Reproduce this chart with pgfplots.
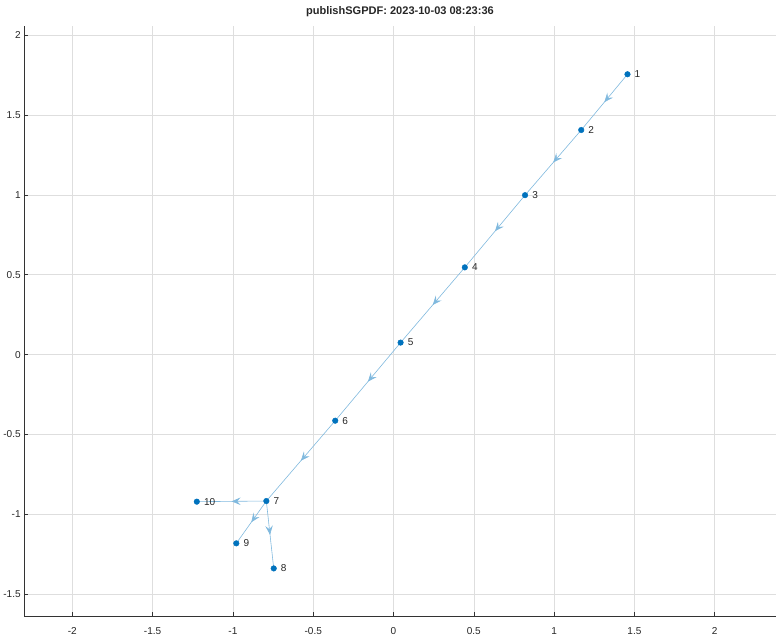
\documentclass[border={0pt 4pt 0pt 3pt}]{standalone}
\usepackage{fontspec}
\setmainfont{Liberation Sans}
\usepackage{pgfplots}
\pgfplotsset{compat=1.18}
\usepackage{pgfplotstable}
\usetikzlibrary{decorations.markings, arrows.meta}
\definecolor{mblue}{rgb}{0,0.447,0.741}
\definecolor{eblue}{rgb}{0.5,0.724,0.871}
\definecolor{gridc}{RGB}{222,222,222}
\definecolor{txt}{RGB}{38,38,38}

% node positions
\pgfplotstableread{
x      y      label
1.457  1.755  1
1.169  1.406  2
0.819  0.998  3
0.444  0.546  4
0.044  0.075  5
-0.363 -0.414 6
-0.792 -0.917 7
-0.746 -1.339 8
-0.979 -1.182 9
-1.225 -0.921 10
}\nodetab

\tikzset{edge/.style={eblue, line width=0.6pt, postaction={decorate},
  decoration={markings, mark=at position 0.5 with
    {\arrow{Stealth[length=9pt,width=7.5pt,inset=3.5pt,line width=0.6pt]}}}}}

\begin{document}
\begin{tikzpicture}
\begin{axis}[
  scale only axis,
  width=749pt, height=588pt,
  xmin=-2.3, xmax=2.38,
  ymin=-1.638, ymax=2.056,
  axis x line*=bottom, axis y line*=left,
  axis line style={black!80, line width=0.6pt},
  tick align=inside,
  tick style={black!80, line width=0.6pt},
  major tick length=4pt,
  xtick={-2,-1.5,...,2},
  ytick={-1.5,-1,...,2},
  grid=major,
  grid style={gridc, line width=0.5pt},
  ticklabel style={font=\fontsize{10}{12}\selectfont, text=txt},
  xticklabel style={yshift=-8pt},
  /pgf/number format/assume math mode=true,
  title={\textbf{publishSGPDF: 2023-10-03 08:23:36}},
  title style={font=\fontsize{11}{13}\selectfont, text=txt},
  clip=false,
]
% edges
\addplot[edge] coordinates {(1.457,1.755) (1.169,1.406)};
\addplot[edge] coordinates {(1.169,1.406) (0.819,0.998)};
\addplot[edge] coordinates {(0.819,0.998) (0.444,0.546)};
\addplot[edge] coordinates {(0.444,0.546) (0.044,0.075)};
\addplot[edge] coordinates {(0.044,0.075) (-0.363,-0.414)};
\addplot[edge] coordinates {(-0.363,-0.414) (-0.792,-0.917)};
\addplot[edge] coordinates {(-0.792,-0.917) (-0.746,-1.339)};
\addplot[edge] coordinates {(-0.792,-0.917) (-0.979,-1.182)};
\addplot[edge] coordinates {(-0.792,-0.917) (-1.225,-0.921)};
% nodes
\addplot[only marks, mark=*, mark size=2.8pt, color=mblue,
  point meta=explicit symbolic,
  nodes near coords,
  nodes near coords style={anchor=west, xshift=7pt, inner sep=0pt,
    text=txt, font=\fontsize{10}{12}\selectfont}]
  table[x=x, y=y, meta=label] {\nodetab};
\end{axis}
\end{tikzpicture}
\end{document}
